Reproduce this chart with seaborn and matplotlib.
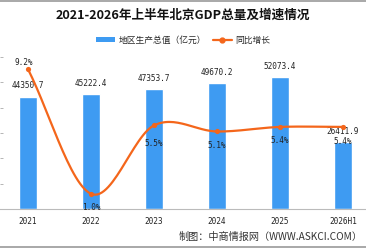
import numpy as np
import matplotlib
matplotlib.use("Agg")
import matplotlib.pyplot as plt
from matplotlib.lines import Line2D
from matplotlib.patches import Patch
import seaborn as sns

# 数据
years = ["2021", "2022", "2023", "2024", "2025", "2026H1"]
gdp = [44350.7, 45222.4, 47353.7, 49670.2, 52073.4, 26411.9]
growth = [9.2, 1.0, 5.5, 5.1, 5.4, 5.4]

BLUE = "#3e9bf2"
ORANGE = "#f4661b"
CJK = ["Noto Sans CJK SC", "DejaVu Sans"]
MONO = ["DejaVu Sans Mono", "Noto Sans CJK SC"]

sns.set_style("white")
plt.rcParams["font.family"] = CJK


def catmull_rom(xs, ys, n=30):
    # 平滑曲线（只用于画线，不改数据）
    xs = np.asarray(xs, float)
    ys = np.asarray(ys, float)
    px = np.concatenate([[2 * xs[0] - xs[1]], xs, [2 * xs[-1] - xs[-2]]])
    py = np.concatenate([[2 * ys[0] - ys[1]], ys, [2 * ys[-1] - ys[-2]]])
    out_x, out_y = [], []
    t = np.linspace(0, 1, n)
    for i in range(1, len(px) - 2):
        for p, out in ((px, out_x), (py, out_y)):
            p0, p1, p2, p3 = p[i - 1], p[i], p[i + 1], p[i + 2]
            out.extend(0.5 * (2 * p1 + (-p0 + p2) * t
                              + (2 * p0 - 5 * p1 + 4 * p2 - p3) * t ** 2
                              + (-p0 + 3 * p1 - 3 * p2 + p3) * t ** 3))
    return np.array(out_x), np.array(out_y)


W, H = 366, 248
fig = plt.figure(figsize=(W / 100, H / 100), dpi=100)
ax = fig.add_axes([0 / W, (H - 209) / H, 366 / W, 152 / H])

sns.barplot(x=years, y=gdp, ax=ax, color=BLUE, width=0.3, saturation=1)
ax.set_xlim(-28 / 63, -28 / 63 + 366 / 63)
ax.set_ylim(0, 60000)
ax.set_yticks(np.arange(0, 60001, 10000))
ax.set_yticklabels([])
ax.tick_params(axis="y", direction="in", length=2.5, color="#aaaaaa", width=0.6)
ax.set_xlabel("")
ax.set_ylabel("")
ax.set_xticks(np.arange(len(years)))
ax.set_xticklabels(years, family=MONO, fontsize=5.6, color="#222222")
ax.set_xticks(np.arange(len(years) - 1) + 0.5, minor=True)
ax.tick_params(axis="x", which="major", length=0, pad=5.5)
ax.tick_params(axis="x", which="minor", direction="in", length=3, color="#999999", width=0.6)
for s in ["top", "right", "left"]:
    ax.spines[s].set_visible(False)
ax.spines["bottom"].set_color("#bbbbbb")
ax.spines["bottom"].set_linewidth(0.8)

for i, v in enumerate(gdp):
    ax.annotate(f"{v:.1f}", (i, v), xytext=(0, 11), textcoords="offset pixels",
                ha="center", va="center", fontsize=5.6, family=MONO, color="#222222")

ax2 = ax.twinx()
ax2.set_ylim(0, 10)
cx, cy = catmull_rom(np.arange(len(years)), growth)
ax2.plot(cx, cy, color=ORANGE, lw=1.6, solid_capstyle="round")
sns.scatterplot(x=np.arange(len(years)), y=growth, ax=ax2, color=ORANGE, s=14,
                edgecolor=ORANGE, linewidth=0, zorder=5)
ax2.set_axis_off()

offsets = [(-4, 7), (0, -14), (0, -18), (0, -14), (0, -14), (0, -15)]
for i, (v, off) in enumerate(zip(growth, offsets)):
    ax2.annotate(f"{v:.1f}%", (i, v), xytext=off, textcoords="offset pixels",
                 ha="center", va="center", fontsize=5.6, family=MONO, color="#222222")

fig.text(183 / W, 1 - 15 / H, "2021-2026年上半年北京GDP总量及增速情况", ha="center", va="center",
         fontsize=9.1, fontweight="bold", color="#111111")

handles = [Patch(facecolor=BLUE, edgecolor="none"),
           Line2D([], [], color=ORANGE, lw=1.6, marker="o", markersize=3.5)]
fig.legend(handles, ["地区生产总值（亿元）", "同比增长"], loc="center", bbox_to_anchor=(183 / W, 1 - 40 / H),
           ncol=2, frameon=False, fontsize=6.3, handlelength=2.2, handleheight=0.5,
           handletextpad=0.4, columnspacing=0.8, borderaxespad=0)

fig.text(363 / W, 1 - 237 / H, "制图：中商情报网（WWW.ASKCI.COM）", ha="right", va="center",
         fontsize=7.3, color="#333333")

fig.add_artist(Line2D([0, 1], [1 - 0.5 / H, 1 - 0.5 / H], color="#999999", lw=1.2))
fig.add_artist(Line2D([0, 1], [1.5 / H, 1.5 / H], color="#999999", lw=1.2))

fig.savefig("out.png", dpi=100)
